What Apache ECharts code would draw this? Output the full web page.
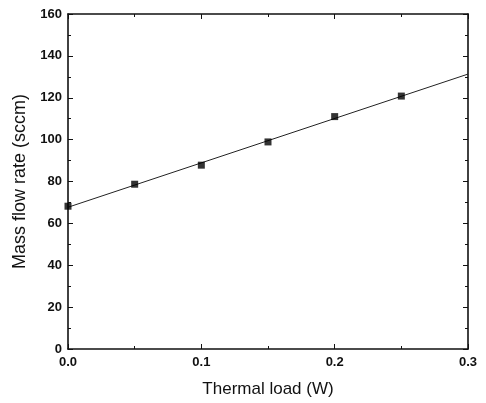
<!DOCTYPE html>
<html>
<head>
<meta charset="utf-8">
<script src="https://cdn.jsdelivr.net/npm/echarts@6/dist/echarts.min.js"></script>
<style>html,body{margin:0;padding:0;background:#fff}#c{width:486px;height:403px}</style>
</head>
<body>
<div id="c"></div>
<script>
var thermalLoad = [0, 0.05, 0.1, 0.15, 0.2, 0.25];
var massFlow = [68.2, 78.7, 87.8, 98.9, 111.0, 120.8];
var fitX = [0, 0.3];
var fitY = [67.7, 131.3];
var xTicks = [0, 0.1, 0.2, 0.3];
var yTicks = [0, 20, 40, 60, 80, 100, 120, 140, 160];

var chart = echarts.init(document.getElementById('c'));
var font = 'Liberation Sans, Arial, sans-serif';
var axisCommon = {
  axisLine: {show: true, onZero: false, lineStyle: {color: '#111', width: 1.6}},
  axisTick: {show: true, inside: true, length: 5, lineStyle: {color: '#111', width: 1}},
  minorTick: {show: true, splitNumber: 2, length: 3, lineStyle: {color: '#111', width: 1}},
  splitLine: {show: false}
};
chart.setOption({
  animation: false,
  grid: {left: 68, right: 18, top: 14, bottom: 53},
  xAxis: [
    Object.assign({}, axisCommon, {
      type: 'value', min: xTicks[0], max: xTicks[xTicks.length - 1], interval: 0.1,
      position: 'bottom',
      name: 'Thermal load (W)', nameLocation: 'middle', nameGap: 32,
      nameTextStyle: {fontFamily: font, fontSize: 17, color: '#111'},
      axisLabel: {fontFamily: font, fontSize: 13, fontWeight: 'bold', color: '#111', margin: 7,
        formatter: function (v) { return v.toFixed(1); }}
    }),
    Object.assign({}, axisCommon, {
      type: 'value', min: xTicks[0], max: xTicks[xTicks.length - 1], interval: 0.1,
      position: 'top', axisLabel: {show: false}
    })
  ],
  yAxis: [
    Object.assign({}, axisCommon, {
      type: 'value', min: yTicks[0], max: yTicks[yTicks.length - 1], interval: 20,
      position: 'left',
      name: 'Mass flow rate (sccm)', nameLocation: 'middle', nameGap: 35,
      nameTextStyle: {fontFamily: font, fontSize: 18, color: '#111'},
      axisLabel: {fontFamily: font, fontSize: 13, fontWeight: 'bold', color: '#111', margin: 6}
    }),
    Object.assign({}, axisCommon, {
      type: 'value', min: yTicks[0], max: yTicks[yTicks.length - 1], interval: 20,
      position: 'right', axisLabel: {show: false}
    })
  ],
  series: [
    {
      type: 'line', xAxisIndex: 0, yAxisIndex: 0,
      data: fitX.map(function (x, i) { return [x, fitY[i]]; }),
      symbol: 'none', lineStyle: {color: '#222', width: 1}, z: 2
    },
    {
      type: 'scatter', xAxisIndex: 0, yAxisIndex: 0,
      data: thermalLoad.map(function (x, i) { return [x, massFlow[i]]; }),
      symbol: 'rect', symbolSize: 7, itemStyle: {color: '#000'}, z: 3
    }
  ]
});
</script>
</body>
</html>
